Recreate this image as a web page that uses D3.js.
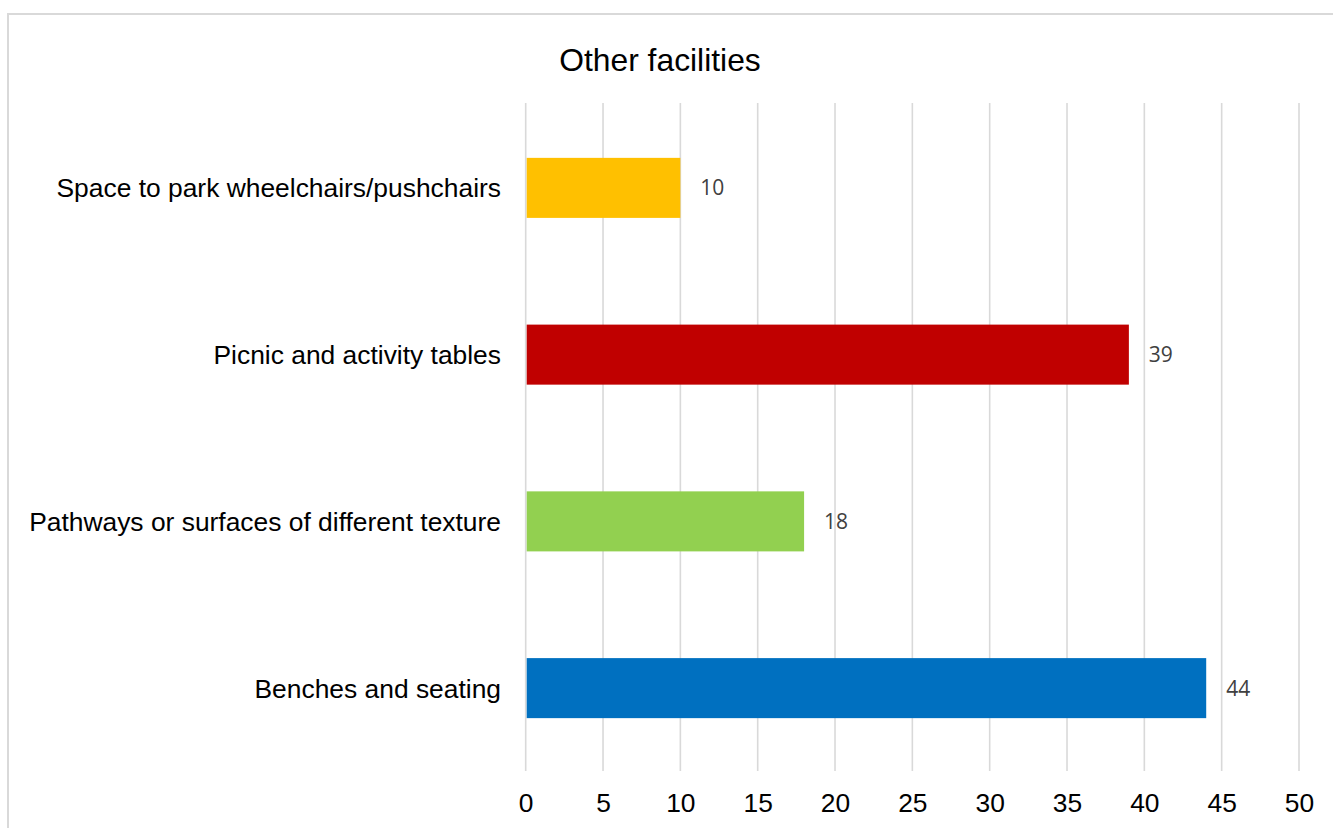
<!DOCTYPE html>
<html>
<head>
<meta charset="utf-8">
<script src="https://cdn.jsdelivr.net/npm/d3@7"></script>
<style>
  html, body { margin: 0; padding: 0; background: #fff; }
  svg { display: block; }
</style>
</head>
<body>
<div id="chart"></div>
<script>
// chart data, top to bottom as drawn
let categories = [
  "Space to park wheelchairs/pushchairs",
  "Picnic and activity tables",
  "Pathways or surfaces of different texture",
  "Benches and seating"
];
let values = [10, 39, 18, 44];
let barColors = ["#FFC000", "#C00000", "#92D050", "#0070C0"];
let xTicks = [0, 5, 10, 15, 20, 25, 30, 35, 40, 45, 50];
let title = "Other facilities";

let width = 1333,
    height = 828;

let svg = d3.select("#chart").append("svg")
    .attr("width", width)
    .attr("height", height);

// chart area frame (runs off the right and bottom edge)
svg.append("rect")
    .attr("x", 8)
    .attr("y", 14)
    .attr("width", 1400)
    .attr("height", 900)
    .attr("fill", "#fff")
    .attr("stroke", "#d9d9d9")
    .attr("stroke-width", 2);

let x = d3.scaleLinear()
    .domain([0, 50])
    .range([525.7, 1299]);

let y = d3.scaleBand()
    .domain(categories)
    .range([104.5, 771.5])
    .paddingInner(0.64)
    .paddingOuter(0.32);

// vertical gridlines
svg.append("g")
    .selectAll("line")
    .data(xTicks)
    .enter()
    .append("line")
    .attr("x1", d => x(d))
    .attr("x2", d => x(d))
    .attr("y1", 103)
    .attr("y2", 771)
    .attr("stroke", "#d9d9d9")
    .attr("stroke-width", 1.6);

// x tick labels
let xAxis = d3.axisBottom(x)
    .tickValues(xTicks)
    .tickSize(0)
    .tickPadding(0);

let xg = svg.append("g")
    .attr("transform", "translate(0,812)")
    .call(xAxis);
xg.select(".domain").remove();
xg.selectAll("text")
    .attr("dy", 0)
    .attr("y", 0)
    .attr("font-family", "'Liberation Sans', Arial, sans-serif")
    .attr("font-size", 26.4)
    .attr("fill", "#000");

// bars
svg.append("g")
    .selectAll("rect")
    .data(categories)
    .enter()
    .append("rect")
    .attr("x", x(0) + 1)
    .attr("y", d => y(d))
    .attr("width", (d, i) => x(values[i]) - x(0) - 1)
    .attr("height", y.bandwidth())
    .attr("fill", (d, i) => barColors[i]);

// category labels
svg.append("g")
    .selectAll("text")
    .data(categories)
    .enter()
    .append("text")
    .attr("x", 501)
    .attr("y", d => y(d) + y.bandwidth() / 2)
    .attr("dy", "0.36em")
    .attr("text-anchor", "end")
    .attr("font-family", "'Liberation Sans', Arial, sans-serif")
    .attr("font-size", 26.4)
    .attr("fill", "#000")
    .text(d => d);

// value labels
svg.append("g")
    .selectAll("text")
    .data(categories)
    .enter()
    .append("text")
    .attr("x", (d, i) => x(values[i]) + 20)
    .attr("y", d => y(d) + y.bandwidth() / 2)
    .attr("dy", "0.36em")
    .attr("font-family", "'Open Sans', sans-serif")
    .attr("font-size", 21)
    .attr("fill", "#404040")
    .text((d, i) => values[i]);

// title
svg.append("text")
    .attr("x", 660)
    .attr("y", 71)
    .attr("text-anchor", "middle")
    .attr("font-family", "'Liberation Sans', Arial, sans-serif")
    .attr("font-size", 31.8)
    .attr("fill", "#000")
    .text(title);
</script>
</body>
</html>
